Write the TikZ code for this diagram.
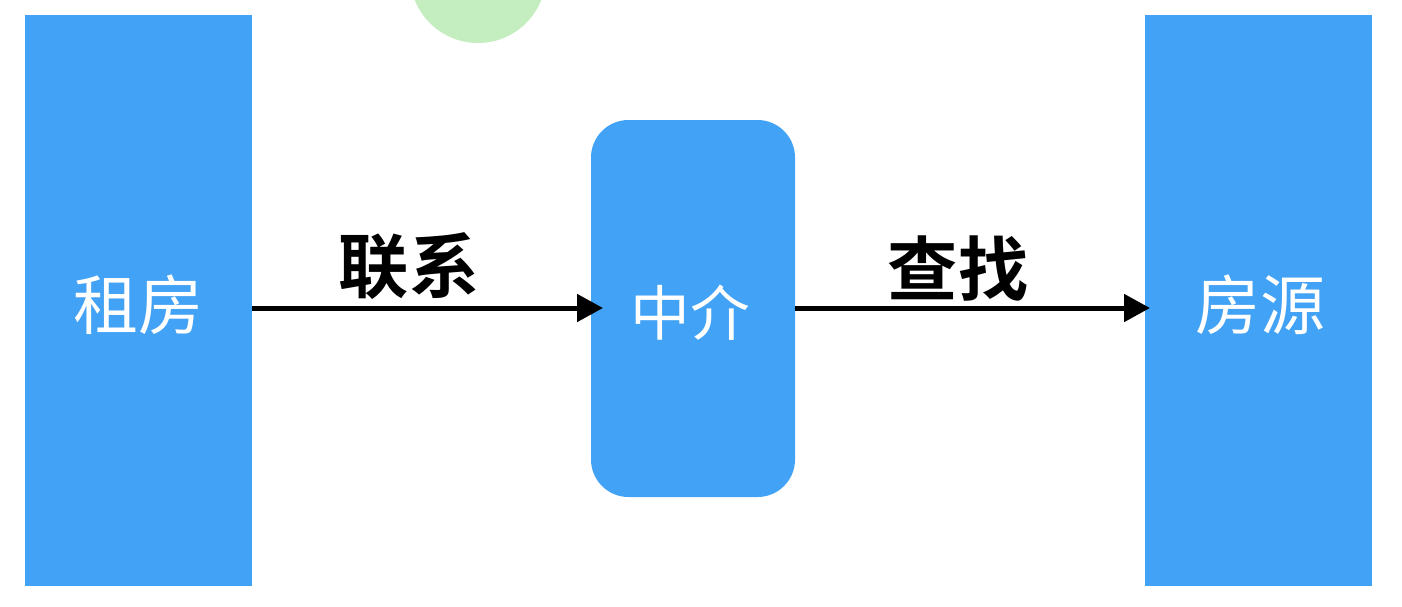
\documentclass[tikz,border=0pt]{standalone}
\usepackage{fontspec}
\newfontfamily\cjk{Noto Sans CJK SC}
\newfontfamily\cjkb{Noto Sans CJK SC Bold}
\usetikzlibrary{arrows.meta}
\definecolor{boxblue}{HTML}{42A2F5}
\definecolor{lightgreen}{HTML}{C4EEC0}
\tikzset{
  sidebox/.style={fill=boxblue, draw=none, minimum width=227*0.02cm, minimum height=571*0.02cm, inner sep=0pt, text=white, font=\cjk\fontsize{37}{40}\selectfont},
  midbox/.style={fill=boxblue, draw=none, rounded corners=0.75cm, minimum width=204*0.02cm, minimum height=377*0.02cm, inner sep=0pt, text=white, font=\cjk\fontsize{34}{38}\selectfont},
  conn/.style={line width=5*0.02cm, -{Triangle[length=26*0.02cm, width=27*0.02cm]}},
  lbl/.style={font=\cjkb\fontsize{40}{44}\selectfont, text=black, inner sep=0pt}
}
\begin{document}
\begin{tikzpicture}[x=0.02cm, y=-0.02cm]
\useasboundingbox (0,0) rectangle (1402,606);
\begin{scope}
\clip (0,0) rectangle (1402,606);
\node[circle, fill=lightgreen, minimum size=136*0.02cm, inner sep=0pt] (g) at (478,-25) {};
\end{scope}
\node[sidebox] (rent) at (138.5,300.5) {};
\node[text=white, font=\cjk\fontsize{37}{40}\selectfont] (rentt) at (138.5,305) {租房};
\node[midbox] (agent) at (693,308.5) {};
\node[text=white, font=\cjk\fontsize{34}{38}\selectfont] (agentt) at (690,313) {中介};
\node[sidebox] (house) at (1258.5,300.5) {};
\node[text=white, font=\cjk\fontsize{37}{40}\selectfont] (houset) at (1260,305) {房源};
\coordinate (a1) at (rent.east |- 0,308);
\coordinate (a2) at (603,308);
\coordinate (b1) at (agent.east |- 0,308);
\coordinate (b2) at (1150,308);
\draw[conn] (a1) -- (a2);
\draw[conn] (b1) -- (b2);
\node[lbl] (l1) at (409,266) {联系};
\node[lbl] (l2) at (958,269) {查找};
\end{tikzpicture}
\end{document}
